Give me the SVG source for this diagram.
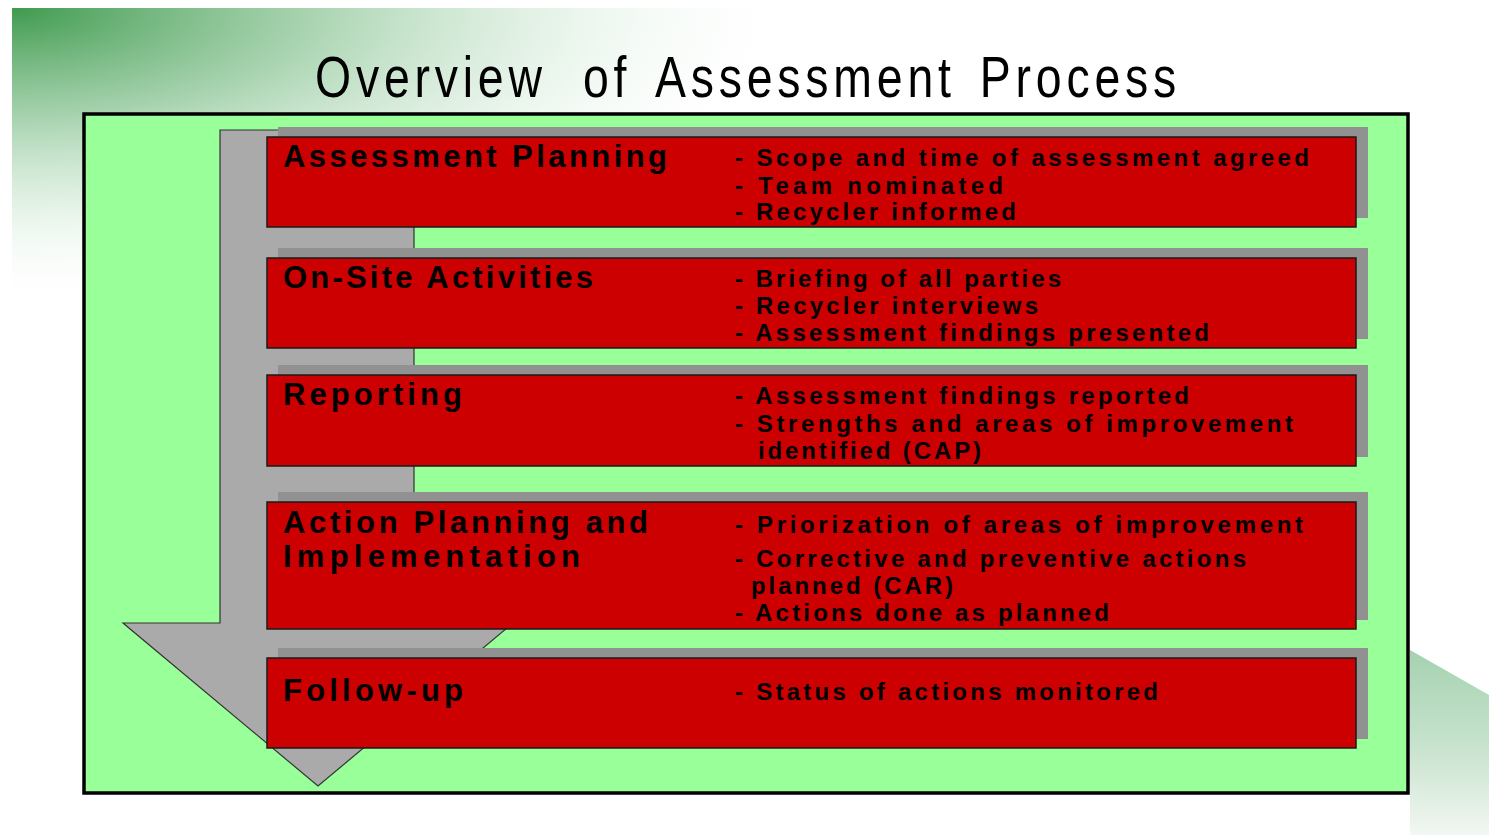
<svg xmlns="http://www.w3.org/2000/svg" width="1489" height="835" viewBox="0 0 1489 835">
  <defs>
    <radialGradient id="tl" cx="0" cy="0" r="1" gradientUnits="objectBoundingBox">
      <stop offset="0" stop-color="#3f9a4e"/>
      <stop offset="0.35" stop-color="#8cc596" stop-opacity="0.8"/>
      <stop offset="0.75" stop-color="#d9eedd" stop-opacity="0.4"/>
      <stop offset="1" stop-color="#ffffff" stop-opacity="0"/>
    </radialGradient>
    <linearGradient id="br" x1="0" y1="0" x2="0" y2="1">
      <stop offset="0" stop-color="#a5d2b0"/>
      <stop offset="0.5" stop-color="#c6e2cc"/>
      <stop offset="1" stop-color="#f2f7f2"/>
    </linearGradient>
    <style>
      .shadow { fill: #919191; }
      .box { fill: #CC0000; stroke: #1a1a1a; stroke-width: 1.5; }
      .label { font-family: "Liberation Sans", Arial, sans-serif; font-weight: bold; font-size: 31px; fill: #000; }
      .item { font-family: "Liberation Sans", Arial, sans-serif; font-weight: bold; font-size: 24px; fill: #000; }
      .title { font-family: "Liberation Sans", Arial, sans-serif; font-size: 58px; letter-spacing: 6px; fill: #000; }
    </style>
  </defs>

  <rect x="0" y="0" width="1489" height="835" fill="#ffffff"/>
  <rect x="12" y="8" width="800" height="300" fill="url(#tl)"/>
  <polygon points="1410,650 1489,695 1489,835 1410,835" fill="url(#br)"/>

  <g transform="translate(315,97) scale(0.8,1)">
    <text class="title" y="0"><tspan x="0">Overview</tspan> <tspan x="335">of</tspan> <tspan x="425">Assessment</tspan> <tspan x="831">Process</tspan></text>
  </g>

  <rect id="frame" x="84" y="114" width="1324" height="679" fill="#99FF99" stroke="#000" stroke-width="3.5"/>

  <g id="connectors">
    <polygon id="arrow" points="220,130 414,130 414,623 513,623 318,786 123,623 220,623" fill="#AAAAAA" stroke="#333" stroke-width="1.2"/>
  </g>

  <g id="node-planning">
    <rect class="shadow" x="278" y="127" width="1090" height="91"/>
    <rect class="box" x="267" y="137" width="1089" height="90"/>
    <text class="label" x="283" y="167" textLength="384" lengthAdjust="spacing">Assessment Planning</text>
    <text class="item" x="735" y="166" textLength="574" lengthAdjust="spacing">- Scope and time of assessment agreed</text>
    <text class="item" x="735" y="194" textLength="268" lengthAdjust="spacing">- Team nominated</text>
    <text class="item" x="735" y="220" textLength="281" lengthAdjust="spacing">- Recycler informed</text>
  </g>

  <g id="node-onsite">
    <rect class="shadow" x="278" y="248" width="1090" height="91"/>
    <rect class="box" x="267" y="258" width="1089" height="90"/>
    <text class="label" x="283" y="288" textLength="310" lengthAdjust="spacing">On-Site Activities</text>
    <text class="item" x="735" y="287" textLength="326" lengthAdjust="spacing">- Briefing of all parties</text>
    <text class="item" x="735" y="314" textLength="303" lengthAdjust="spacing">- Recycler interviews</text>
    <text class="item" x="735" y="341" textLength="474" lengthAdjust="spacing">- Assessment findings presented</text>
  </g>

  <g id="node-reporting">
    <rect class="shadow" x="278" y="365" width="1090" height="92"/>
    <rect class="box" x="267" y="375" width="1089" height="91"/>
    <text class="label" x="283" y="405" textLength="179" lengthAdjust="spacing">Reporting</text>
    <text class="item" x="735" y="404" textLength="454" lengthAdjust="spacing">- Assessment findings reported</text>
    <text class="item" x="735" y="432" textLength="558" lengthAdjust="spacing">- Strengths and areas of improvement</text>
    <text class="item" x="758" y="459" textLength="223" lengthAdjust="spacing">identified (CAP)</text>
  </g>

  <g id="node-action">
    <rect class="shadow" x="278" y="492" width="1090" height="128"/>
    <rect class="box" x="267" y="502" width="1089" height="127"/>
    <text class="label" x="283" y="533" textLength="365" lengthAdjust="spacing">Action Planning and</text>
    <text class="label" x="283" y="567" textLength="297" lengthAdjust="spacing">Implementation</text>
    <text class="item" x="735" y="533" textLength="568" lengthAdjust="spacing">- Priorization of areas of improvement</text>
    <text class="item" x="735" y="567" textLength="511" lengthAdjust="spacing">- Corrective and preventive actions</text>
    <text class="item" x="751" y="594" textLength="202" lengthAdjust="spacing">planned (CAR)</text>
    <text class="item" x="735" y="621" textLength="374" lengthAdjust="spacing">- Actions done as planned</text>
  </g>

  <g id="node-followup">
    <rect class="shadow" x="278" y="648" width="1090" height="91"/>
    <rect class="box" x="267" y="658" width="1089" height="90"/>
    <text class="label" x="283" y="701" textLength="180" lengthAdjust="spacing">Follow-up</text>
    <text class="item" x="735" y="700" textLength="423" lengthAdjust="spacing">- Status of actions monitored</text>
  </g>
</svg>
